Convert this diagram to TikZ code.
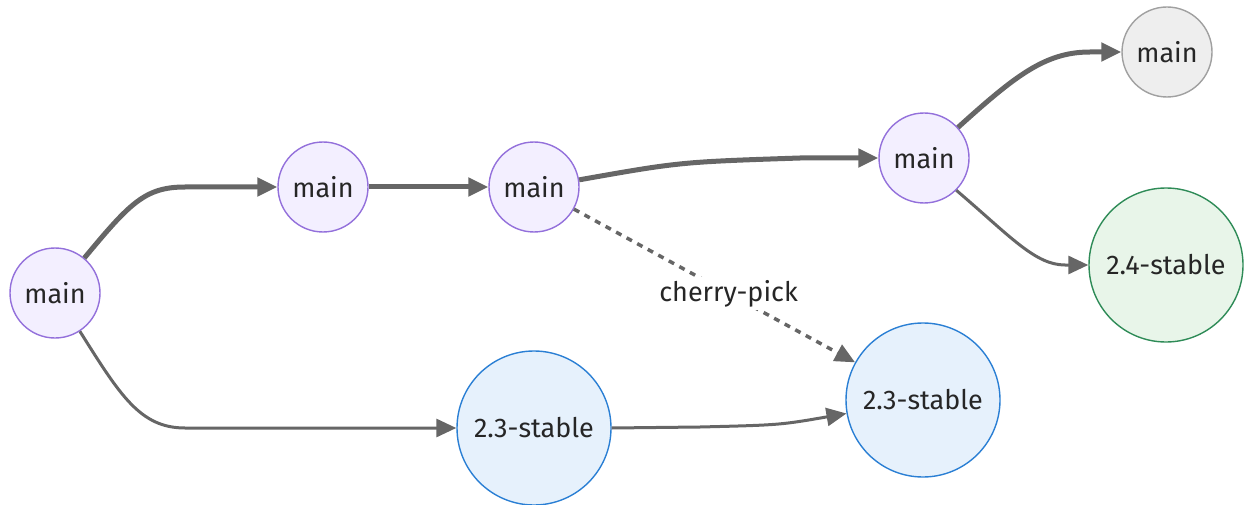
\documentclass[tikz,border=0pt]{standalone}
\usepackage{fontspec}
\setmainfont{Fira Sans}
\usetikzlibrary{arrows.meta}
\definecolor{edgec}{HTML}{666666}
\definecolor{purfill}{HTML}{F3EFFF}
\definecolor{purline}{HTML}{9370DB}
\definecolor{grayfill}{HTML}{EEEEEE}
\definecolor{grayline}{HTML}{A0A0A0}
\definecolor{grnfill}{HTML}{E8F5E9}
\definecolor{grnline}{HTML}{2E8B57}
\definecolor{blufill}{HTML}{E6F1FC}
\definecolor{bluline}{HTML}{2A7FD4}
\tikzset{
  commit/.style={circle, inner sep=0pt, line width=1.4pt, font=\fontsize{27}{32}\selectfont, text=black!85},
  smallc/.style={commit, minimum size=90pt},
  bigc/.style={commit, minimum size=154pt},
  mainc/.style={smallc, draw=purline, fill=purfill},
  headc/.style={smallc, draw=grayline, fill=grayfill},
  grnc/.style={bigc, draw=grnline, fill=grnfill},
  bluc/.style={bigc, draw=bluline, fill=blufill},
  flow/.style={draw=edgec, line width=3pt, -{Triangle[length=20pt,width=18pt]}},
  thickflow/.style={flow, line width=5pt},
  pick/.style={flow, line width=3.5pt, dash pattern=on 6pt off 6pt},
}
\begin{document}
\begin{tikzpicture}[x=1pt,y=-1pt]
\useasboundingbox (0,0) rectangle (1244,505);
\node[mainc] (A) at (55,293) {main};
\node[mainc] (B) at (323,187) {main};
\node[mainc] (C) at (534,187) {main};
\node[mainc] (D) at (924,158) {main};
\node[headc] (E) at (1167,52) {main};
\node[grnc] (F) at (1166,265) {2.4-stable};
\node[bluc] (G) at (534,428) {2.3-stable};
\node[bluc] (H) at (923,400) {2.3-stable};

\draw[thickflow] (A.50) .. controls (130,203) and (145,187) .. (185,187) -- (B.west);
\draw[thickflow] (B) -- (C);
\draw[thickflow] (C.9) .. controls (680,162) .. (800,158) -- (D.west);
\draw[thickflow] (D.42) .. controls (1015,76) and (1045,52) .. (1090,52) -- (E.west);
\draw[flow] (D.-45) .. controls (1010,236) and (1035,265) .. (1065,265) -- (F.west);
\draw[flow] (A.-57) .. controls (120,395) and (140,428) .. (185,428) -- (G.west);
\draw[flow] (G.east) -- (700,427) .. controls (780,425) .. (H.190);
\draw[pick] (C.-29) -- node[pos=0.55, fill=white, inner sep=3pt, font=\fontsize{27}{32}\selectfont, text=black!85, dash pattern=] {cherry-pick} (H.151);
\end{tikzpicture}
\end{document}
